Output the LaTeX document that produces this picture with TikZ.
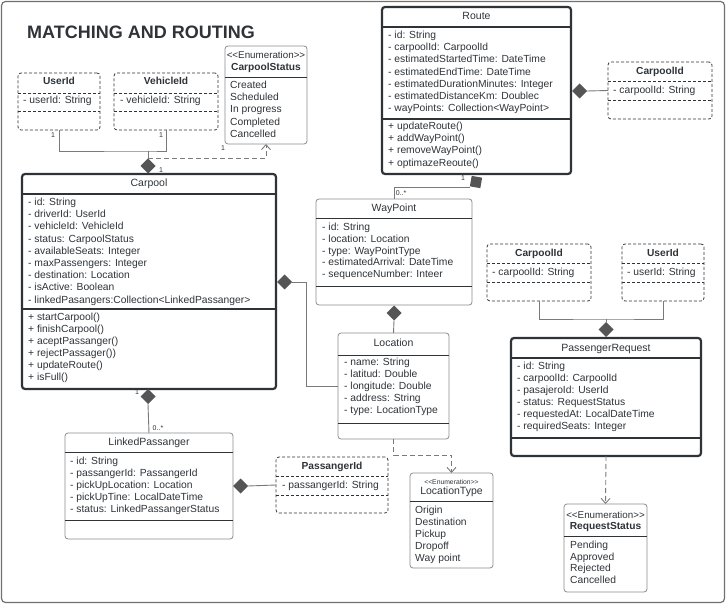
\documentclass[tikz,border=0pt]{standalone}
\usepackage{fontspec}
\setmainfont{Liberation Sans}
\usetikzlibrary{shapes.geometric,arrows.meta}
\definecolor{ink}{HTML}{2E3338}
\definecolor{edgec}{HTML}{7A7A7A}
\definecolor{diac}{HTML}{555555}
\definecolor{thinc}{HTML}{8C8C8C}
\newcommand{\enumtag}{{<}{<}Enumeration{>}{>}}
\begin{document}
\begin{tikzpicture}[x=1pt,y=-1pt,
  box/.style={rounded corners=3pt, inner sep=0pt, outer sep=0pt, anchor=north west},
  thickbox/.style={box, draw=ink, line width=2.2pt},
  thinbox/.style={box, draw=thinc, line width=0.8pt},
  dashbox/.style={box, draw=ink, line width=0.8pt, dash pattern=on 3pt off 2pt},
  attr/.style={anchor=west, inner sep=0pt, font=\fontsize{10.3}{12}\selectfont, text=ink, text height=7.3pt, text depth=2.2pt},
  ttl/.style={inner sep=0pt, font=\fontsize{10.5}{12}\selectfont, text=ink, text height=7.5pt, text depth=2.2pt},
  bttl/.style={ttl, font=\fontsize{10.2}{12}\selectfont\bfseries},
  enumhdr/.style={inner sep=0pt, font=\fontsize{9.8}{11}\selectfont, text=ink},
  mult/.style={inner sep=0pt, font=\fontsize{7}{8}\selectfont, text=ink},
  dia/.style={diamond, fill=diac, draw=none, minimum width=15pt, minimum height=15pt, inner sep=0pt, outer sep=0pt},
  conn/.style={draw=edgec, line width=0.9pt},
  dep/.style={draw=edgec, line width=0.9pt, dash pattern=on 5pt off 3pt, -{Straight Barb[length=5pt,width=9pt]}},
  thicksep/.style={draw=ink, line width=2.2pt},
  thinsep/.style={draw=ink, line width=0.8pt},
  dashsep/.style={draw=ink, line width=0.8pt, dash pattern=on 3pt off 2pt}
]
\useasboundingbox (0,0) rectangle (726,604);
\draw[draw=thinc!80!black, line width=1.2pt, rounded corners=4pt] (1.5,1.5) rectangle (724.5,602.5);
\node[anchor=base west, inner sep=0pt, font=\fontsize{18}{20}\selectfont\bfseries, text=ink] (title) at (27,39) {MATCHING AND ROUTING};

% ---------------- boxes ----------------
\node[dashbox, minimum width=82pt, minimum height=57pt] (uid1) at (18,73) {};
\node[dashbox, minimum width=104pt, minimum height=57pt] (vid) at (114,73) {};
\node[thinbox, minimum width=82pt, minimum height=98pt] (cstat) at (225,46) {};
\node[thickbox, minimum width=254pt, minimum height=215pt] (carpool) at (22,174) {};
\node[thickbox, minimum width=189pt, minimum height=167pt] (route) at (382,7) {};
\node[dashbox, minimum width=104pt, minimum height=57pt] (cpid1) at (608,62) {};
\node[thinbox, minimum width=156pt, minimum height=106pt] (wp) at (316,199) {};
\node[thinbox, minimum width=111pt, minimum height=106pt] (loc) at (338,333) {};
\node[thinbox, minimum width=168pt, minimum height=106pt] (lp) at (65,433) {};
\node[dashbox, minimum width=112pt, minimum height=56pt] (pid) at (276,457) {};
\node[thinbox, minimum width=83pt, minimum height=95pt] (ltype) at (410,473) {};
\node[dashbox, minimum width=104pt, minimum height=57pt] (cpid2) at (487,244) {};
\node[dashbox, minimum width=82pt, minimum height=57pt] (uid2) at (622,244) {};
\node[thickbox, minimum width=190pt, minimum height=118pt] (prq) at (511,338) {};
\node[thinbox, minimum width=83pt, minimum height=88pt] (rstat) at (564,504) {};

% ---------------- separators ----------------
\foreach \n/\y in {uid1/93, uid1/111, vid/93, vid/111, cpid1/81, cpid1/100, pid/476, pid/495, cpid2/263, cpid2/282, uid2/263, uid2/282}
  \draw[dashsep] (\n.west |- 0,\y) -- (\n.east |- 0,\y);
\foreach \n/\y in {cstat/77, wp/218, wp/286, loc/355, loc/423, lp/452, lp/520, ltype/501, rstat/536}
  \draw[thinsep] (\n.west |- 0,\y) -- (\n.east |- 0,\y);
\foreach \n/\y in {carpool/194, carpool/309, route/27, route/119, prq/358, prq/438}
  \draw[thicksep] (\n.west |- 0,\y) -- (\n.east |- 0,\y);

% ---------------- titles ----------------
\node[bttl] (uid1t) at (59,82) {UserId};
\node[bttl] (vidt) at (166,82) {VehicleId};
\node[enumhdr] (cstate) at (266,55) {\enumtag};
\node[bttl] (cstatt) at (266,68) {CarpoolStatus};
\node[ttl] (carpoolt) at (149,184) {Carpool};
\node[ttl] (routet) at (476.5,17) {Route};
\node[bttl] (cpid1t) at (660,72) {CarpoolId};
\node[ttl] (wpt) at (394,209) {WayPoint};
\node[ttl] (loct) at (393.5,344) {Location};
\node[ttl] (lpt) at (149,443) {LinkedPassanger};
\node[bttl] (pidt) at (332,467) {PassangerId};
\node[inner sep=0pt, font=\fontsize{6.8}{8}\selectfont, text=ink] (ltypee) at (451.5,482) {\enumtag};
\node[ttl] (ltypet) at (451.5,492) {LocationType};
\node[bttl] (cpid2t) at (539,254) {CarpoolId};
\node[bttl] (uid2t) at (663,254) {UserId};
\node[ttl] (prqt) at (606,349) {PassengerRequest};
\node[enumhdr] (rstate) at (605.5,515) {\enumtag};
\node[bttl] (rstatt) at (605.5,527) {RequestStatus};

% ---------------- attributes ----------------
\node[attr] (uid1a) at (23,101) {- userId: String};
\node[attr] (vida) at (120,101) {- vehicleId: String};
\node[attr] (cpid1a) at (613,91) {- carpoolId: String};
\node[attr] (cpid2a) at (492,273) {- carpoolId: String};
\node[attr] (uid2a) at (627,273) {- userId: String};
\node[attr] (pida) at (282,486) {- passangerId: String};

\foreach \t [count=\i] in {Created, Scheduled, In progress, Completed, Cancelled}
  \node[attr] (csi\i) at (230,{86+12.2*(\i-1)}) {\t};

\foreach \t [count=\i] in {- id: String, - driverId: UserId, - vehicleId: VehicleId, - status: CarpoolStatus, - availableSeats: Integer, - maxPassengers: Integer, - destination: Location, - isActive: Boolean, - linkedPasangers:Collection<LinkedPassanger>}
  \node[attr] (cpa\i) at (28,{203+12.2*(\i-1)}) {\t};
\foreach \t [count=\i] in {+ startCarpool(), + finishCarpool(), + aceptPassanger(), + rejectPassager()), + updateRoute(), + isFull()}
  \node[attr] (cpm\i) at (28,{318+12*(\i-1)}) {\t};

\foreach \t [count=\i] in {- id: String, - carpoolId: CarpoolId, - estimatedStartedTime: DateTime, - estimatedEndTime: DateTime, - estimatedDurationMinutes: Integer, - estimatedDistanceKm: Doublec, - wayPoints: Collection<WayPoint>}
  \node[attr] (ra\i) at (388,{36+12.2*(\i-1)}) {\t};
\foreach \t [count=\i] in {+ updateRoute(), + addWayPoint(), + removeWayPoint(), + optimazeReoute()}
  \node[attr] (rm\i) at (388,{127+12.2*(\i-1)}) {\t};

\foreach \t [count=\i] in {- id: String, - location: Location, - type: WayPointType, - estimatedArrival: DateTime, - sequenceNumber: Inteer}
  \node[attr] (wpa\i) at (322,{228+11.8*(\i-1)}) {\t};

\foreach \t [count=\i] in {- name: String, - latitud: Double, - longitude: Double, - address: String, - type: LocationType}
  \node[attr] (loca\i) at (344,{363+12*(\i-1)}) {\t};

\foreach \t [count=\i] in {- id: String, - passangerId: PassangerId, - pickUpLocation: Location, - pickUpTine: LocalDateTime, - status: LinkedPassangerStatus}
  \node[attr] (lpa\i) at (70,{462+12*(\i-1)}) {\t};

\foreach \t [count=\i] in {Origin, Destination, Pickup, Dropoff, Way point}
  \node[attr] (lti\i) at (415,{511+12*(\i-1)}) {\t};

\foreach \t [count=\i] in {- id: String, - carpoolId: CarpoolId, - pasajeroId: UserId, - status: RequestStatus, - requestedAt: LocalDateTime, - requiredSeats: Integer}
  \node[attr] (pra\i) at (517,{367+12*(\i-1)}) {\t};

\foreach \t [count=\i] in {Pending, Approved, Rejected, Cancelled}
  \node[attr] (rsi\i) at (570,{546+11.7*(\i-1)}) {\t};

% ---------------- connectors ----------------
% Carpool top: UserId + VehicleId
\coordinate (cj) at (148,151);
\node[dia] (dtop) at (148,166) {};
\draw[conn] (uid1.south) |- (cj) -| (vid.south);
\draw[conn] (dtop.north) -- (cj);
\draw[dep] (dtop.north) -| (cstat.south);
\node[mult] (m1) at (53,135) {1};
\node[mult] (m2) at (161,135) {1};
\node[mult] (m3) at (161,170) {1};
\node[mult] (m4) at (223,148) {1};

% Carpool -> Location
\node[dia] (dcr) at (284.5,282) {};
\draw[conn] (dcr.east) -- ++(14,0) |- (loc.west);

% Route -> WayPoint
\node[dia, rotate=35] (drb) at (476,182) {};
\coordinate (rj) at (470,187);
\draw[conn] (wp.north) |- (rj);
\node[mult] (m5) at (463,178) {1};
\node[mult] (m6) at (401,193) {0..*};

% Route -> CarpoolId
\node[dia] (drr) at (579.5,91) {};
\draw[conn] (drr.east) -- (cpid1.west);

% WayPoint -> Location
\node[dia] (dwb) at (394,313) {};
\draw[conn] (dwb.south) -- (loc.north);

% Location -> LocationType
\draw[dep] (loc.south) -- ++(0,16) -| (ltype.north);

% Carpool -> LinkedPassanger
\node[dia] (dcb) at (148,396.5) {};
\draw[conn] (dcb.south) -- (lp.north);
\node[mult] (m7) at (137,392) {1};
\node[mult] (m8) at (158,428) {0..*};

% LinkedPassanger -> PassangerId
\node[dia] (dlr) at (240.5,486) {};
\draw[conn] (dlr.east) -- (pid.west);

% PassengerRequest top
\coordinate (pj) at (606,319);
\node[dia] (dpt) at (606,329.5) {};
\draw[conn] (cpid2.south) |- (pj) -| (uid2.south);
\draw[conn] (dpt.north) -- (pj);

% PassengerRequest -> RequestStatus
\draw[dep] (prq.south) -- (rstat.north);
\end{tikzpicture}
\end{document}
